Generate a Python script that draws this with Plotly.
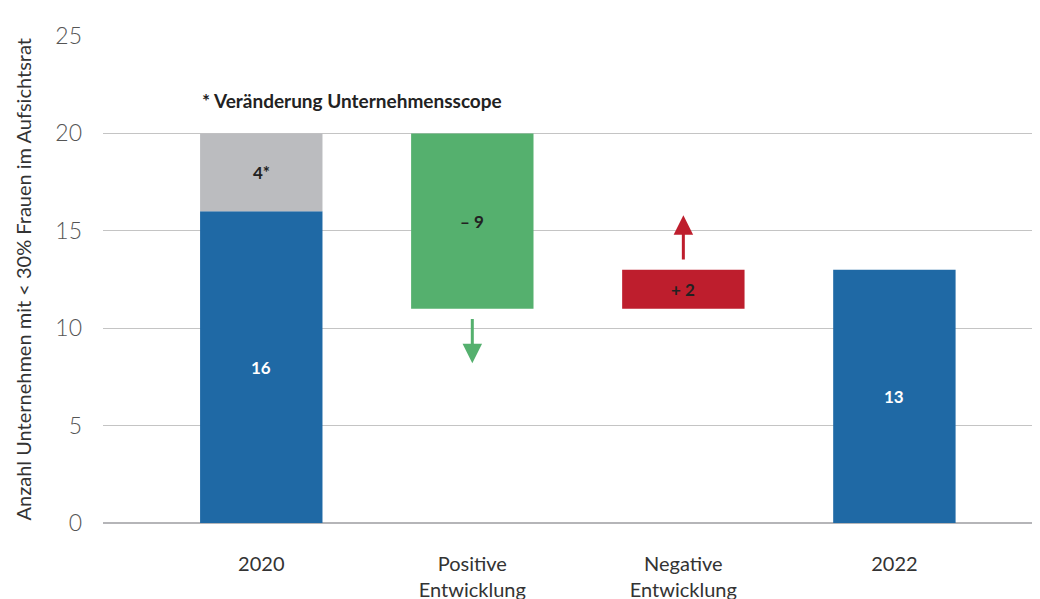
import plotly.graph_objects as go

categories = ["2020", "Positive<br>Entwicklung", "Negative<br>Entwicklung", "2022"]
start_2020 = 16
scope_change = 4
positive_change = -9
negative_change = 2
end_2022 = 13
y_ticks = [0, 5, 10, 15, 20, 25]
y_title = "Anzahl Unternehmen mit < 30% Frauen im Aufsichtsrat"

blue = "#1F69A5"
grey = "#BBBCBF"
green = "#55B06E"
red = "#BE1E2D"
font = "Source Sans Pro, Lato, sans-serif"
bw = 0.58

top_2020 = start_2020 + scope_change
green_base = top_2020 + positive_change
red_base = green_base

fig = go.Figure()
fig.add_bar(x=[categories[0], categories[3]], y=[start_2020, end_2022], base=[0, 0],
            marker_color=blue, width=bw)
fig.add_bar(x=[categories[0]], y=[scope_change], base=[start_2020], marker_color=grey, width=bw)
fig.add_bar(x=[categories[1]], y=[-positive_change], base=[green_base], marker_color=green, width=bw)
fig.add_bar(x=[categories[2]], y=[negative_change], base=[red_base], marker_color=red, width=bw)
for t in fig.data:
    t.marker.line.width = 0

labels = [
    (0, start_2020 / 2, str(start_2020), "white"),
    (0, start_2020 + scope_change / 2, f"{scope_change}*", "#222"),
    (1, green_base + (-positive_change) / 2, f"– {-positive_change}", "#222"),
    (2, red_base + negative_change / 2, f"+ {negative_change}", "#222"),
    (3, end_2022 / 2, str(end_2022), "white"),
]
for x, y, txt, col in labels:
    fig.add_annotation(x=x, y=y, xref="x", yref="y", text=f"<b>{txt}</b>", showarrow=False,
                       font=dict(size=17, color=col, family=font))

# arrows
fig.add_annotation(x=1, y=green_base - 2.8, ax=1, ay=green_base - 0.45, xref="x", yref="y",
                   axref="x", ayref="y", showarrow=True, arrowhead=2, arrowsize=1.3,
                   arrowwidth=3, arrowcolor=green, text="")
fig.add_annotation(x=2, y=red_base + negative_change + 2.8, ax=2, ay=red_base + negative_change + 0.45,
                   xref="x", yref="y", axref="x", ayref="y", showarrow=True, arrowhead=2,
                   arrowsize=1.3, arrowwidth=3, arrowcolor=red, text="")

fig.add_annotation(x=-0.29, y=21.7, xref="x", yref="y", xanchor="left", showarrow=False,
                   text="<b>* Veränderung Unternehmensscope</b>",
                   font=dict(size=19, color="#222", family=font))

fig.add_annotation(x=0, y=0.5, xref="paper", yref="paper", xanchor="center", yanchor="middle",
                   xshift=-81, textangle=-90, showarrow=False, text=y_title, borderpad=0,
                   font=dict(size=20, color="#333", family=font))

fig.update_layout(
    width=1040, height=599, barmode="overlay", showlegend=False,
    plot_bgcolor="white", paper_bgcolor="white",
    margin=dict(l=95, r=8, t=28, b=84, autoexpand=False),
    font=dict(family=font),
)
fig.update_xaxes(type="category", categoryorder="array", categoryarray=categories,
                 range=[-0.75, 3.69], showgrid=False, showline=False, automargin=False,
                 tickfont=dict(size=20, color="#333"), ticks="", ticklabelstandoff=27)
fig.update_yaxes(range=[0, 25], tickvals=y_ticks, showgrid=True, gridcolor="#C4C4C4", gridwidth=1,
                 zeroline=True, zerolinecolor="#B5B5B8", zerolinewidth=2, automargin=False,
                 tickfont=dict(size=23, color="#555", weight=300), ticklabelstandoff=20)

fig.write_html("out.html")
